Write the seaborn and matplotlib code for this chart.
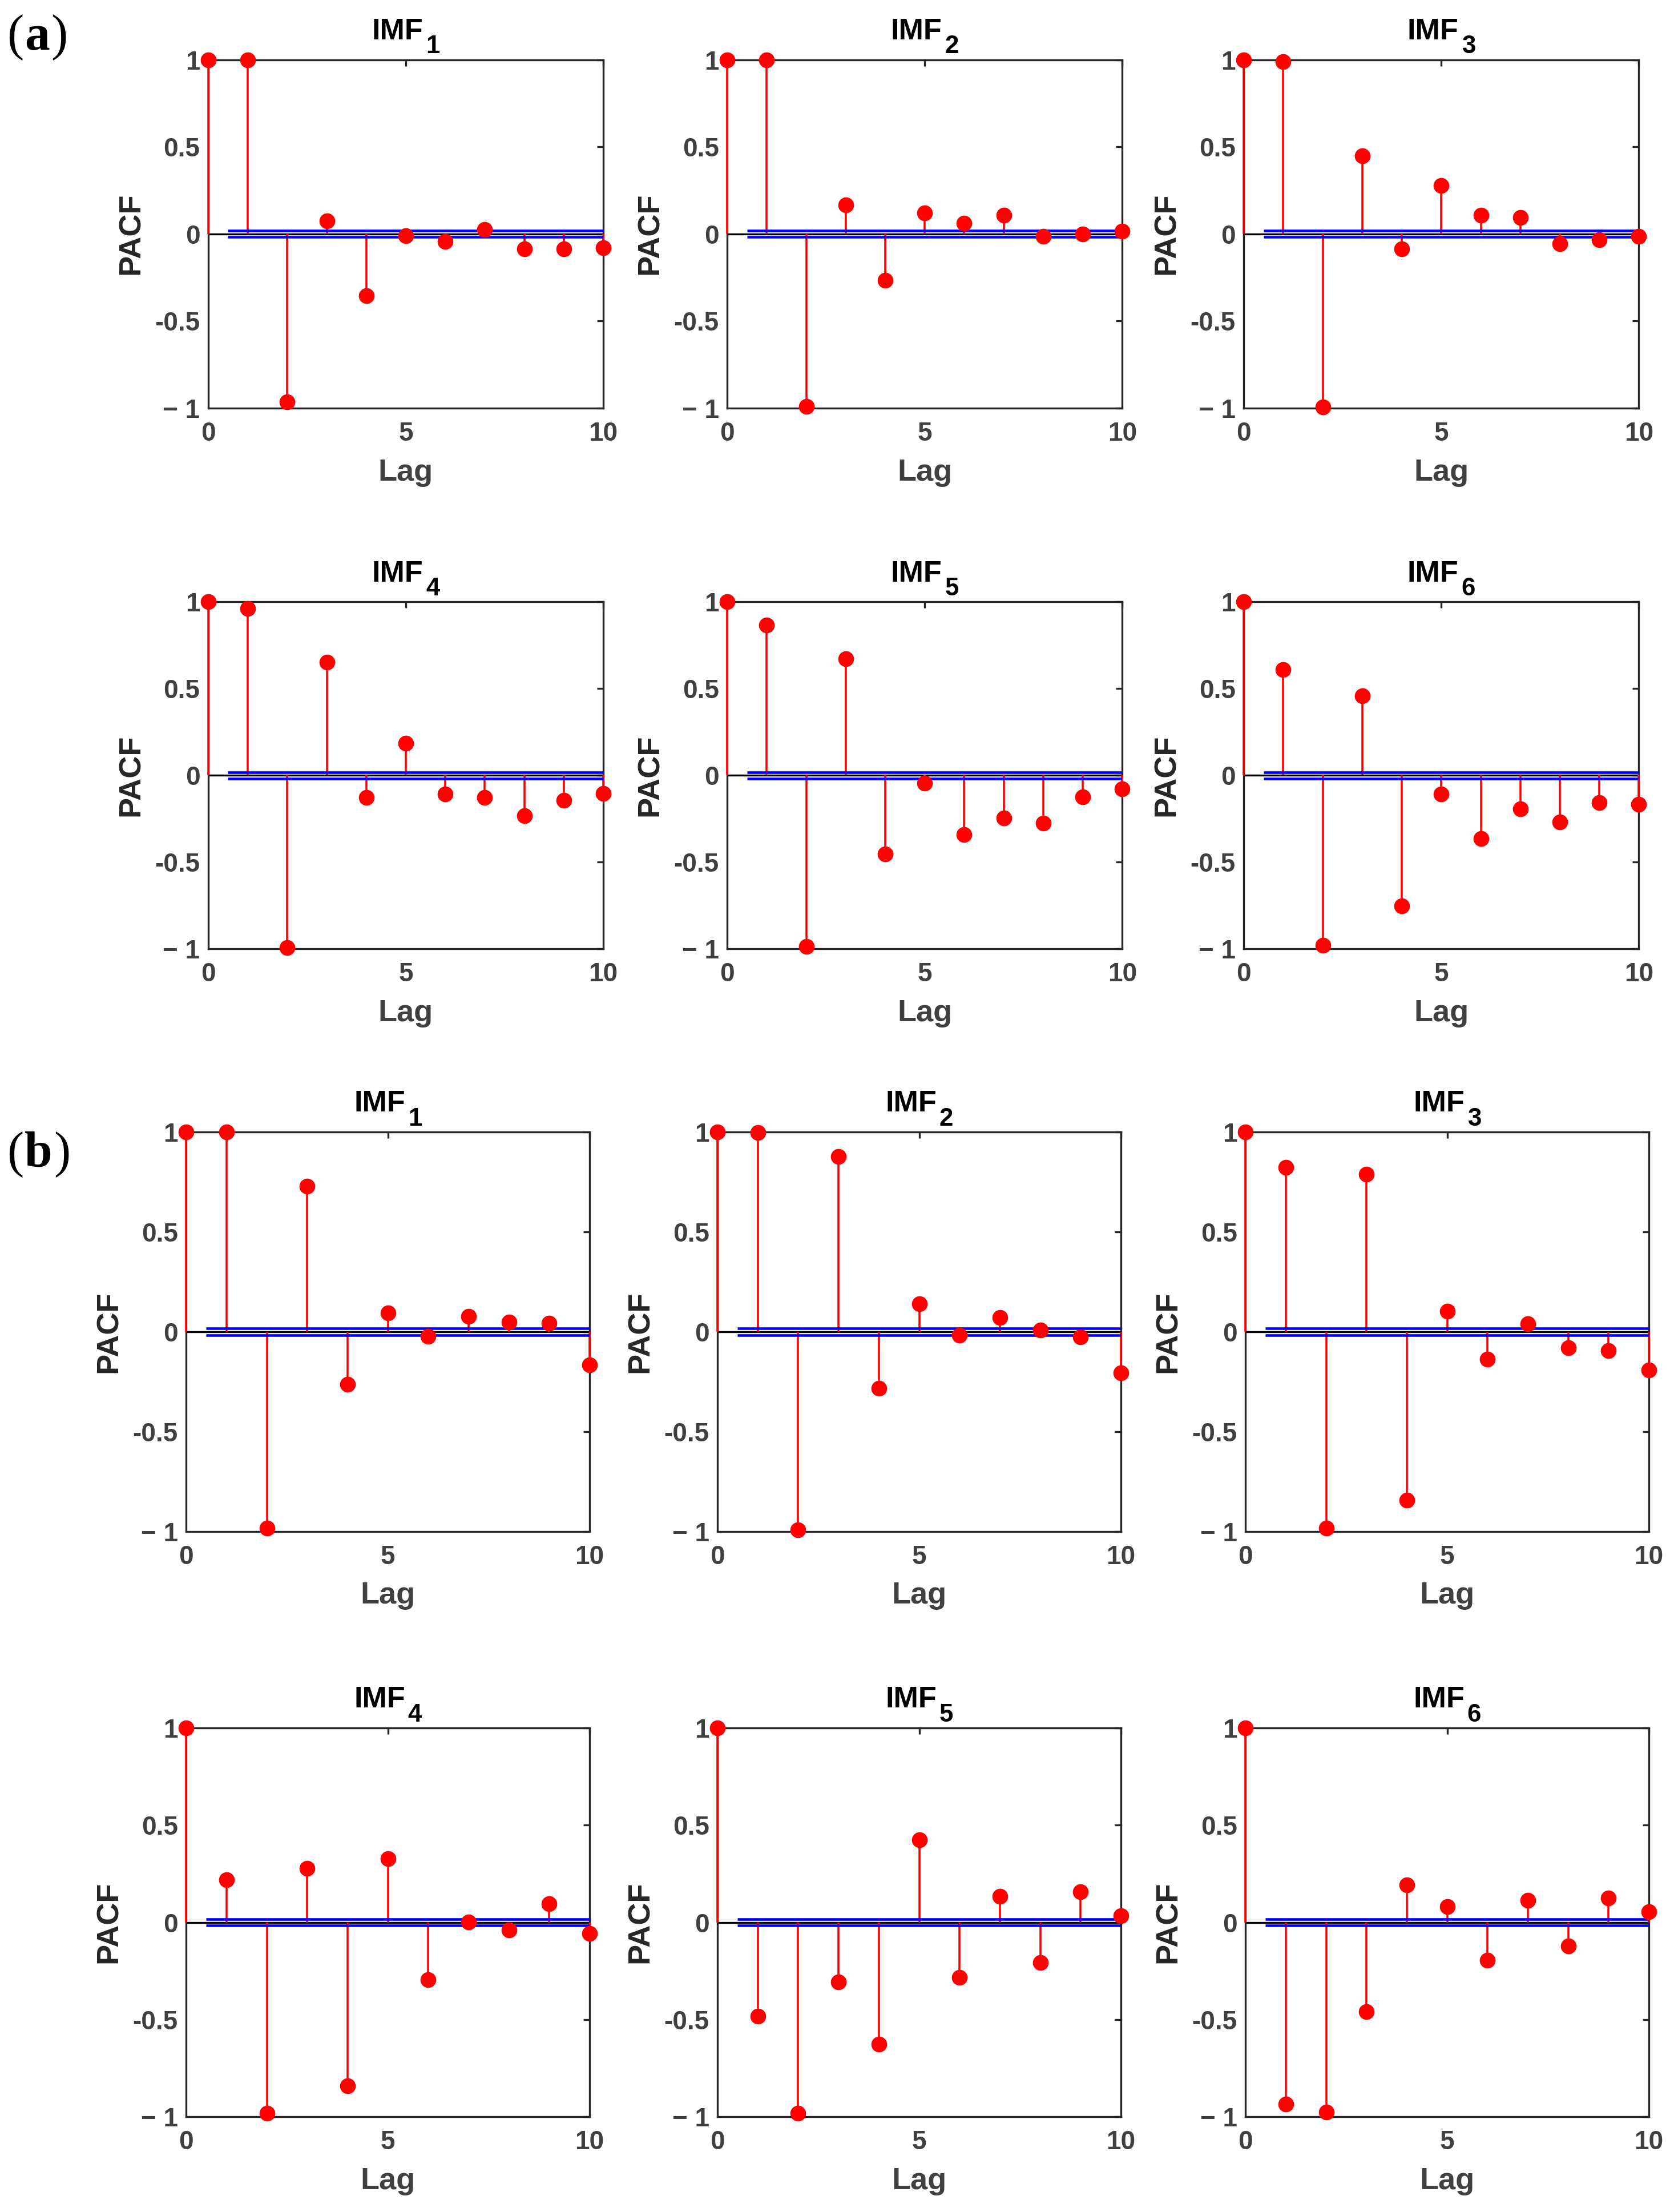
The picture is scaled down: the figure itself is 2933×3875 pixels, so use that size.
import matplotlib
matplotlib.use("Agg")
import matplotlib.pyplot as plt
import seaborn as sns
import pandas as pd

# ---------------- data ----------------
lags = [0, 1, 2, 3, 4, 5, 6, 7, 8, 9, 10]

a_imf1 = [1.0, 1.0, -0.963, 0.074, -0.355, -0.010, -0.043, 0.026, -0.085, -0.087, -0.081]
a_imf2 = [1.0, 1.0, -0.990, 0.166, -0.266, 0.121, 0.060, 0.106, -0.015, -0.002, 0.015]
a_imf3 = [1.0, 0.988, -0.993, 0.449, -0.087, 0.278, 0.108, 0.093, -0.055, -0.034, -0.013]
a_imf4 = [1.0, 0.962, -0.994, 0.654, -0.129, 0.186, -0.109, -0.127, -0.232, -0.143, -0.105]
a_imf5 = [1.0, 0.867, -0.988, 0.672, -0.454, -0.046, -0.341, -0.247, -0.275, -0.125, -0.077]
a_imf6 = [1.0, 0.608, -0.979, 0.459, -0.754, -0.109, -0.366, -0.193, -0.270, -0.159, -0.166]

b_imf1 = [1.0, 1.0, -0.984, 0.728, -0.263, 0.095, -0.023, 0.076, 0.049, 0.044, -0.166]
b_imf2 = [1.0, 0.998, -0.993, 0.878, -0.284, 0.140, -0.016, 0.071, 0.007, -0.026, -0.207]
b_imf3 = [1.0, 0.822, -0.984, 0.790, -0.843, 0.102, -0.136, 0.039, -0.079, -0.094, -0.192]
b_imf4 = [1.0, 0.220, -0.983, 0.279, -0.842, 0.329, -0.295, 0.003, -0.040, 0.097, -0.057]
b_imf5 = [1.0, -0.482, -0.983, -0.308, -0.627, 0.425, -0.282, 0.135, -0.208, 0.156, 0.033]
b_imf6 = [1.0, -0.934, -0.976, -0.459, 0.194, 0.081, -0.194, 0.114, -0.121, 0.125, 0.054]

conf_a = 0.018
conf_b = 0.017

title_main = "IMF"
title_subs = ["1", "2", "3", "4", "5", "6"]
x_ticks = [0, 5, 10]
y_ticks = [-1, -0.5, 0, 0.5, 1]
y_ticklabels = ["\u2212 1", "-0.5", "0", "0.5", "1"]

# ---------------- style ----------------
sns.set_theme(style="white")
plt.rcParams["font.family"] = ["Liberation Sans", "DejaVu Sans"]
plt.rcParams["axes.linewidth"] = 0.8

fig = plt.figure(figsize=(2933 / 300, 3875 / 300), dpi=300)
fig.patch.set_facecolor("white")

a_lefts = [0.1244, 0.4344, 0.7430]
a_w = 0.236
a_rows = [(0.8155, 0.1575), (0.5711, 0.1568)]
b_lefts = [0.1112, 0.4286, 0.7440]
b_w = 0.241
b_rows = [(0.3077, 0.1805), (0.0431, 0.1757)]

tick_color = "#404040"


def draw_panel(rect, vals, conf, idx):
    ax = fig.add_axes(rect)
    df = pd.DataFrame({"Lag": lags, "PACF": vals})
    ax.axhline(0, color="black", lw=0.8, zorder=2)
    ax.vlines(df["Lag"], 0, df["PACF"], color="#ff0000", lw=0.85, zorder=3, clip_on=False)
    ax.hlines([conf, -conf], 0.5, 10, color="#0000ff", lw=1.1, zorder=3.5)
    sns.scatterplot(data=df, x="Lag", y="PACF", ax=ax, color="#ff0000", s=44,
                    linewidth=0, zorder=4, clip_on=False, legend=False)
    ax.set_xlim(0, 10)
    ax.set_ylim(-1, 1)
    ax.set_xticks(x_ticks)
    ax.set_xticklabels([str(t) for t in x_ticks])
    ax.set_yticks(y_ticks)
    ax.set_yticklabels(y_ticklabels)
    ax.tick_params(axis="both", direction="in", length=2.6, width=0.8, color="#262626",
                   labelsize=11, labelcolor=tick_color, top=True, right=True)
    ax.tick_params(axis="x", pad=5.5)
    ax.tick_params(axis="y", pad=3.5)
    for lab in ax.get_xticklabels() + ax.get_yticklabels():
        lab.set_fontweight("bold")
    for sp in ax.spines.values():
        sp.set_visible(True)
        sp.set_color("#262626")
        sp.set_linewidth(0.8)
    ax.set_xlabel("Lag", fontsize=13, fontweight="bold", color=tick_color, labelpad=5)
    ax.set_ylabel("PACF", fontsize=13, fontweight="bold", color="#262626", labelpad=4)
    # title "IMF" with a lowered subscript (MATLAB style)
    t = ax.annotate(title_main, xy=(0.5, 1), xycoords="axes fraction",
                    xytext=(-3.5, 8.6), textcoords="offset points",
                    ha="center", va="baseline", fontsize=12.5, fontweight="bold",
                    color="black", annotation_clip=False)
    ax.annotate(title_subs[idx], xy=(1, 0), xycoords=t,
                xytext=(1.2, -3.2), textcoords="offset points",
                ha="left", va="baseline", fontsize=10.5, fontweight="bold",
                color="black", annotation_clip=False)
    ax.set_facecolor("white")
    return ax


a_series = [a_imf1, a_imf2, a_imf3, a_imf4, a_imf5, a_imf6]
b_series = [b_imf1, b_imf2, b_imf3, b_imf4, b_imf5, b_imf6]

for i, vals in enumerate(a_series):
    r, c = divmod(i, 3)
    bottom, h = a_rows[r]
    draw_panel([a_lefts[c], bottom, a_w, h], vals, conf_a, i)

for i, vals in enumerate(b_series):
    r, c = divmod(i, 3)
    bottom, h = b_rows[r]
    draw_panel([b_lefts[c], bottom, b_w, h], vals, conf_b, i)


def letter_label(x, y, letter):
    serif = ["Liberation Serif", "DejaVu Serif"]
    p1 = fig.text(x, y, "(", fontsize=21, va="baseline", ha="left", family=serif,
                  color="black")
    p2 = plt.annotate(letter, xy=(1, 0), xycoords=p1, xytext=(0.5, 0),
                      textcoords="offset points", va="bottom", ha="left",
                      fontsize=21, fontweight="bold", family=serif, color="black",
                      annotation_clip=False)
    plt.annotate(")", xy=(1, 0), xycoords=p2, xytext=(0.5, 0),
                 textcoords="offset points", va="bottom", ha="left",
                 fontsize=21, family=serif, color="black", annotation_clip=False)


letter_label(0.004, 0.9775, "a")
letter_label(0.004, 0.4725, "b")

fig.savefig("out.png", dpi=300, facecolor="white")
